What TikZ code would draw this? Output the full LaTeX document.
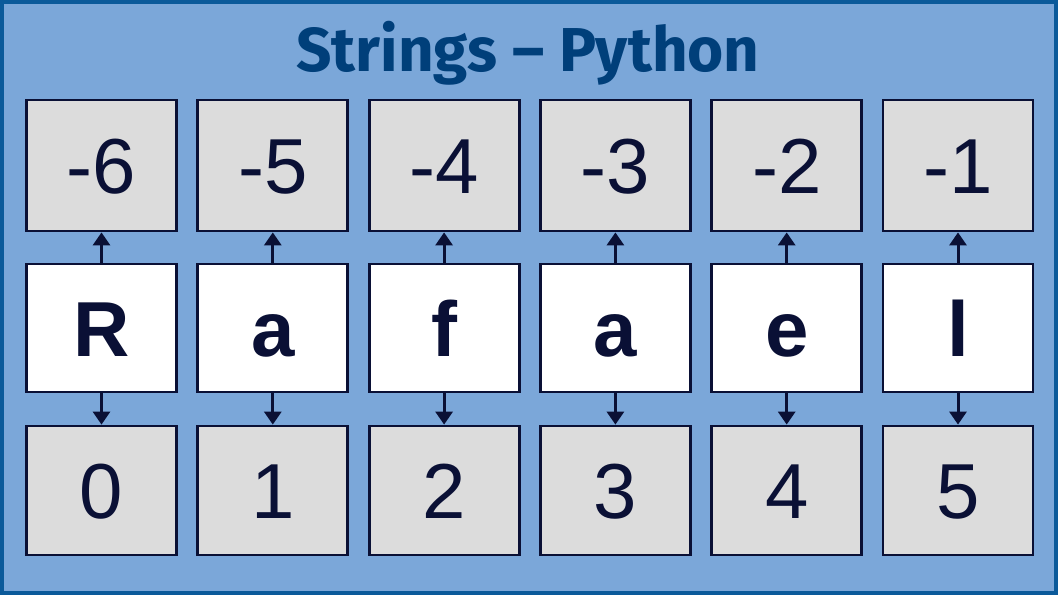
\documentclass[tikz,border=0pt]{standalone}
\usepackage{fontspec}
\setmainfont{Liberation Sans}
\newfontfamily\titlefont{Fira Sans}
\usetikzlibrary{arrows.meta}
\definecolor{bgblue}{HTML}{7BA7D9}
\definecolor{frameblue}{HTML}{0B5A9A}
\definecolor{titleblue}{HTML}{003F7A}
\definecolor{navy}{HTML}{0A1035}
\definecolor{cellgrey}{HTML}{DCDCDC}
\tikzset{
  cell/.style={draw=navy, line width=2.8pt, minimum width=150pt, inner sep=0pt,
    text=navy, text height=56pt, text depth=0pt,
    font=\fontsize{78}{80}\selectfont},
  idxbox/.style={cell, fill=cellgrey},
  charbox/.style={cell, fill=white, font=\fontsize{78}{80}\selectfont\bfseries},
  link/.style={draw=navy, line width=3pt, -{Triangle[width=17pt,length=13pt]}}
}
\begin{document}
\begin{tikzpicture}[x=1pt,y=-1pt]
\useasboundingbox (0,0) rectangle (1058,595);
\fill[bgblue] (0,0) rectangle (1058,595);
\draw[frameblue, line width=4pt] (2,2) rectangle (1056,593);
\node[font=\titlefont\fontsize{62}{66}\selectfont\bfseries, text=titleblue, anchor=base] (title) at (528,71) {Strings – Python};
\foreach \i/\neg/\ch/\pos in {0/-6/R/0, 1/-5/a/1, 2/-4/f/2, 3/-3/a/3, 4/-2/e/4, 5/-1/l/5} {
  \pgfmathsetmacro{\cx}{101.5+171.3*\i}
  \node[idxbox, minimum height=131pt] (neg\i) at (\cx,165.5) {\neg};
  \node[charbox, minimum height=128pt] (ch\i) at (\cx,328) {\ch};
  \node[idxbox, minimum height=129pt] (pos\i) at (\cx,490.5) {\pos};
  \draw[link] (ch\i.north) -- (neg\i.south);
  \draw[link] (ch\i.south) -- (pos\i.north);
}
\end{tikzpicture}
\end{document}
